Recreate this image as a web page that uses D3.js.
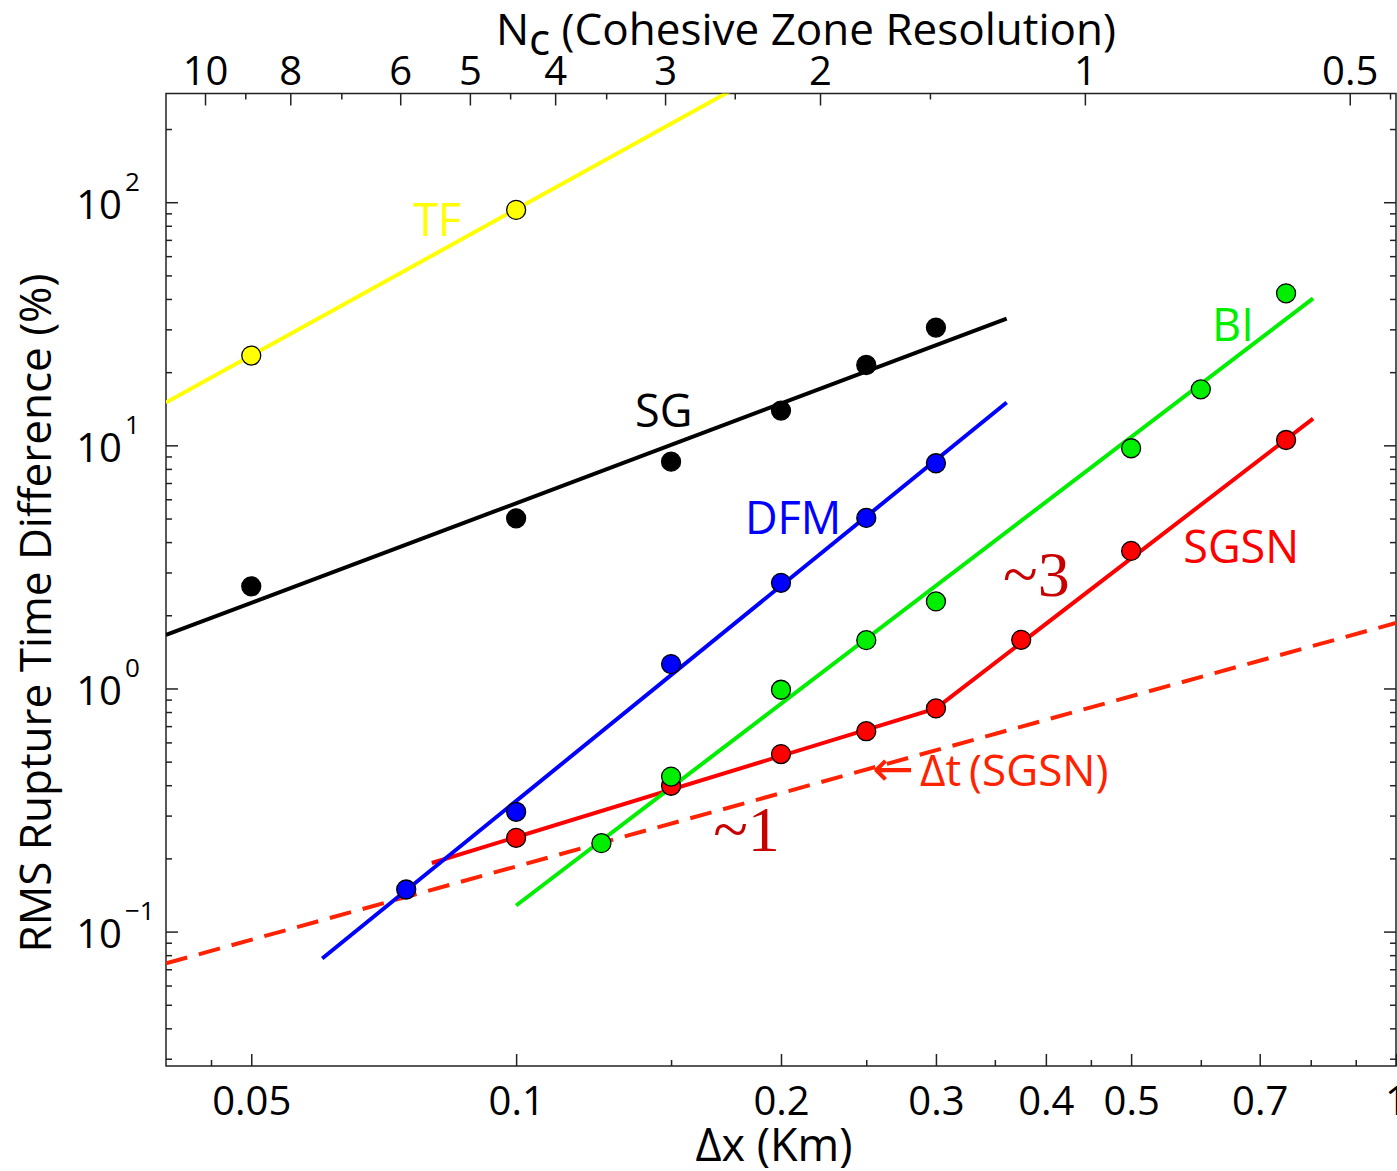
<!DOCTYPE html>
<html>
<head>
<meta charset="utf-8">
<script src="https://cdn.jsdelivr.net/npm/d3@7"></script>
<style>
  body { margin: 0; background: #fff; }
  svg { display: block; }
</style>
</head>
<body>
<svg id="chart" width="1397" height="1171"></svg>
<script>
// Grid spacing Δx (km) and RMS rupture time difference (%) for each method
const tfDx = [0.05, 0.1];
const tfRms = [23.4, 93];
const sgDx = [0.05, 0.1, 0.15, 0.2, 0.25, 0.3];
const sgRms = [2.63, 5.01, 8.57, 13.9, 21.4, 30.5];
const dfmDx = [0.075, 0.1, 0.15, 0.2, 0.25, 0.3];
const dfmRms = [0.149, 0.311, 1.26, 2.72, 5.03, 8.44];
const biDx = [0.125, 0.15, 0.2, 0.25, 0.3, 0.5, 0.6, 0.75];
const biRms = [0.231, 0.434, 0.988, 1.58, 2.28, 9.73, 17.0, 42.2];
const sgsnDx = [0.1, 0.15, 0.2, 0.25, 0.3, 0.375, 0.5, 0.75];
const sgsnRms = [0.243, 0.398, 0.537, 0.667, 0.828, 1.585, 3.68, 10.52];

// Power-law fit lines, as [Δx, RMS] vertices
const tfFit = [[0.04, 15.0], [0.18, 303]];
const sgFit = [[0.04, 1.66], [0.361, 33.2]];
const dfmFit = [[0.0602, 0.0775], [0.361, 15.0]];
const biFit = [[0.1, 0.128], [0.805, 40.2]];
const sgsnFit = [[0.0802, 0.1915], [0.3, 0.828], [0.805, 12.88]];
// Time step of SGSN (dashed)
const dtSgsn = [[0.04, 0.074], [1, 1.86]];

// Axis ticks
const dxMajor = [0.05, 0.1, 0.2, 0.3, 0.4, 0.5, 0.7, 1];
const dxMinor = [0.045, 0.15, 0.25, 0.35, 0.45, 0.6, 0.8, 0.9];
const ncMajor = [10, 8, 6, 5, 4, 3, 2, 1, 0.5];
const ncMinor = [9, 7, 4.5, 3.5, 2.5, 1.5, 0.45];
const rmsMajorExp = [-1, 0, 1, 2];
const rmsMinor = [0.03, 0.04, 0.05, 0.06, 0.07, 0.08, 0.09,
                  0.2, 0.3, 0.4, 0.5, 0.6, 0.7, 0.8, 0.9,
                  2, 3, 4, 5, 6, 7, 8, 9,
                  20, 30, 40, 50, 60, 70, 80, 90, 200];

// Cohesive zone width (km): Nc = LAMBDA / Δx
const LAMBDA = 0.443;

const SANS = '"Open Sans", "Noto Sans", sans-serif';
const SERIF = '"Liberation Serif", "DejaVu Serif", serif';

const series = [
  { name: "SGSN", dx: sgsnDx, rms: sgsnRms, fit: sgsnFit, color: "#ff0000" },
  { name: "BI",   dx: biDx,   rms: biRms,   fit: biFit,   color: "#00ee00" },
  { name: "DFM",  dx: dfmDx,  rms: dfmRms,  fit: dfmFit,  color: "#0000ff" },
  { name: "SG",   dx: sgDx,   rms: sgRms,   fit: sgFit,   color: "#000000" },
  { name: "TF",   dx: tfDx,   rms: tfRms,   fit: tfFit,   color: "#ffff00" }
];

// Labels placed in data coordinates (left edge / baseline)
const seriesLabels = [
  { text: "TF",   dx: 0.0764, rms: 72.6, color: "#ffff00" },
  { text: "SG",   dx: 0.1365, rms: 11.9, color: "#000000" },
  { text: "DFM",  dx: 0.182,  rms: 4.32, color: "#0000ff" },
  { text: "BI",   dx: 0.618,  rms: 26.9, color: "#00ee00" },
  { text: "SGSN", dx: 0.573,  rms: 3.29, color: "#ff0000" }
];
const slopeLabels = [
  { text: "~3", dx: 0.3576, rms: 2.40 },
  { text: "~1", dx: 0.1675, rms: 0.2154 }
];
const dtLabelPos = { dx: 0.2538, rms: 0.398 };

const plotLeft = 166, plotRight = 1396, plotTop = 93.5, plotBottom = 1066;

const x = d3.scaleLog().domain([0.04, 1]).range([plotLeft, plotRight]);
const y = d3.scaleLog().domain([0.028, 280]).range([plotBottom, plotTop]);
const nc = d3.scaleLog().domain([LAMBDA / 0.04, LAMBDA / 1]).range([plotLeft, plotRight]);

const svg = d3.select("#chart").style("font-family", SANS);
const axisColor = "#222";

svg.append("defs").append("clipPath").attr("id", "plotClip")
  .append("rect").attr("x", plotLeft).attr("y", plotTop)
  .attr("width", plotRight - plotLeft).attr("height", plotBottom - plotTop);

// ---- Axes ----
function styleAxis(g) {
  g.select(".domain").remove();
  g.selectAll(".tick line").attr("stroke", axisColor).attr("stroke-width", 1.5);
  g.selectAll("text").style("font-family", SANS).attr("font-size", 40).attr("fill", "#000");
}

// bottom Δx axis
svg.append("g").attr("transform", `translate(0,${plotBottom})`)
  .call(d3.axisBottom(x).tickValues(dxMajor).tickSizeInner(-12).tickSizeOuter(0)
    .tickPadding(21).tickFormat(d => String(d)))
  .call(styleAxis);
svg.append("g").attr("transform", `translate(0,${plotBottom})`)
  .call(d3.axisBottom(x).tickValues(dxMinor).tickSizeInner(-6).tickSizeOuter(0).tickFormat(""))
  .call(styleAxis);

// top Nc axis
svg.append("g").attr("transform", `translate(0,${plotTop})`)
  .call(d3.axisTop(nc).tickValues(ncMajor).tickSizeInner(-12).tickSizeOuter(0)
    .tickPadding(9).tickFormat(d => String(d)))
  .call(styleAxis);
svg.append("g").attr("transform", `translate(0,${plotTop})`)
  .call(d3.axisTop(nc).tickValues(ncMinor).tickSizeInner(-6).tickSizeOuter(0).tickFormat(""))
  .call(styleAxis);

// left and right RMS axes
const rmsMajor = rmsMajorExp.map(e => Math.pow(10, e));
[[d3.axisLeft, plotLeft], [d3.axisRight, plotRight]].forEach(([ax, px]) => {
  svg.append("g").attr("transform", `translate(${px},0)`)
    .call(ax(y).tickValues(rmsMajor).tickSizeInner(-12).tickSizeOuter(0).tickFormat(""))
    .call(styleAxis);
  svg.append("g").attr("transform", `translate(${px},0)`)
    .call(ax(y).tickValues(rmsMinor).tickSizeInner(-6).tickSizeOuter(0).tickFormat(""))
    .call(styleAxis);
});

// power-of-ten labels on the left axis
const yLab = svg.append("g");
rmsMajorExp.forEach(e => {
  const ty = y(Math.pow(10, e));
  yLab.append("text").attr("x", 122).attr("y", ty + 16.5)
    .attr("text-anchor", "end").attr("font-size", 40).text("10");
  yLab.append("text").attr("x", 125).attr("y", ty - 11.5)
    .attr("text-anchor", "start").attr("font-size", 26)
    .text(e < 0 ? "\u2212" + Math.abs(e) : String(e));
});

// frame
svg.append("rect").attr("x", plotLeft).attr("y", plotTop)
  .attr("width", plotRight - plotLeft).attr("height", plotBottom - plotTop)
  .attr("fill", "none").attr("stroke", axisColor).attr("stroke-width", 1.5);

// ---- Axis titles ----
svg.append("text").attr("x", 774).attr("y", 1161).attr("text-anchor", "middle")
  .attr("font-size", 45).text("\u0394x (Km)");

const topTitle = svg.append("text").attr("x", 806).attr("y", 45)
  .attr("text-anchor", "middle").attr("font-size", 44);
topTitle.append("tspan").text("N");
topTitle.append("tspan").attr("dy", 10).text("c");
topTitle.append("tspan").attr("dy", -10).text(" (Cohesive Zone Resolution)");

svg.append("text").attr("transform", "translate(51,613) rotate(-90)")
  .attr("text-anchor", "middle").attr("font-size", 44)
  .text("RMS Rupture Time Difference (%)");

// ---- Lines ----
const line = d3.line().x(d => x(d[0])).y(d => y(d[1]));
const plot = svg.append("g").attr("clip-path", "url(#plotClip)");

plot.append("path").datum(dtSgsn).attr("d", line)
  .attr("fill", "none").attr("stroke", "#ff2200").attr("stroke-width", 4)
  .attr("stroke-dasharray", "22,12");

series.forEach(s => {
  plot.append("path").datum(s.fit).attr("d", line)
    .attr("fill", "none").attr("stroke", s.color).attr("stroke-width", 4);
});

// ---- Points ----
series.forEach(s => {
  plot.append("g").selectAll("circle")
    .data(s.dx.map((d, i) => [d, s.rms[i]]))
    .join("circle")
    .attr("cx", d => x(d[0])).attr("cy", d => y(d[1])).attr("r", 9.5)
    .attr("fill", s.color).attr("stroke", "#000").attr("stroke-width", 1.3);
});

// ---- Labels ----
seriesLabels.forEach(l => {
  svg.append("text").attr("x", x(l.dx)).attr("y", y(l.rms))
    .attr("font-size", 45).attr("fill", l.color).text(l.text);
});
slopeLabels.forEach(l => {
  svg.append("text").attr("x", x(l.dx)).attr("y", y(l.rms))
    .style("font-family", SERIF)
    .attr("font-size", 64).attr("fill", "#c80000").text(l.text);
});
const dtLabel = svg.append("text").attr("x", x(dtLabelPos.dx)).attr("y", y(dtLabelPos.rms))
  .attr("font-size", 44).attr("fill", "#ff2200");
dtLabel.append("tspan").style("font-family", '"DejaVu Sans", sans-serif')
  .attr("font-size", 50).text("\u2190");
dtLabel.append("tspan").attr("dx", 6).text("\u0394t");
dtLabel.append("tspan").attr("dx", 8).text("(SGSN)");
</script>
</body>
</html>
